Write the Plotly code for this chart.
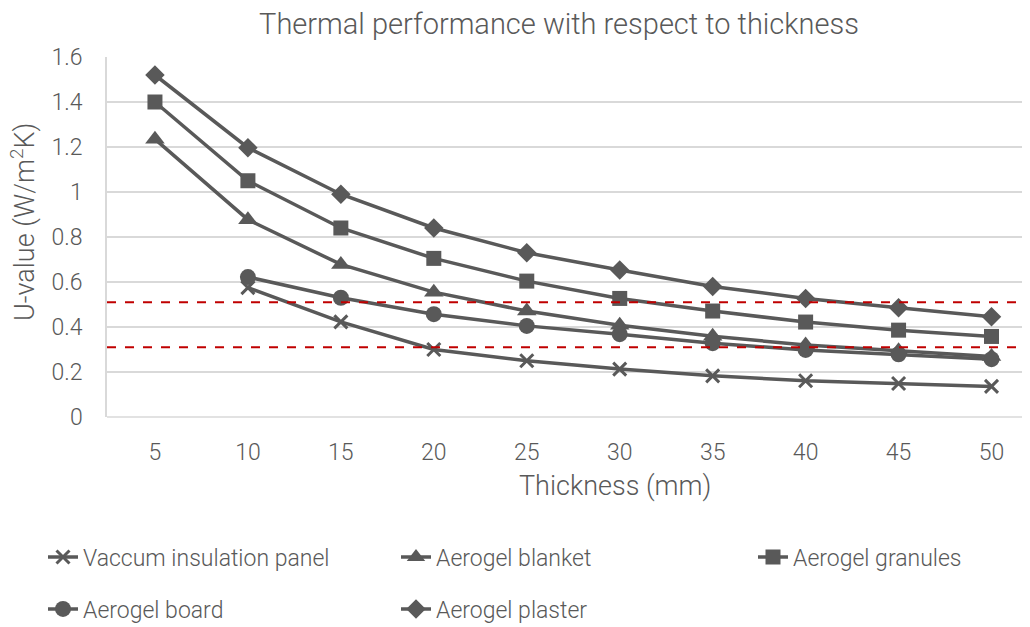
import plotly.graph_objects as go

thickness = [5, 10, 15, 20, 25, 30, 35, 40, 45, 50]
vip = [None, 0.575, 0.423, 0.300, 0.250, 0.213, 0.183, 0.161, 0.149, 0.136]
blanket = [1.235, 0.877, 0.678, 0.555, 0.471, 0.408, 0.359, 0.320, 0.294, 0.269]
granules = [1.400, 1.050, 0.840, 0.705, 0.604, 0.527, 0.471, 0.422, 0.386, 0.358]
board = [None, 0.622, 0.530, 0.457, 0.405, 0.368, 0.328, 0.298, 0.279, 0.257]
plaster = [1.520, 1.197, 0.990, 0.840, 0.730, 0.653, 0.580, 0.527, 0.486, 0.446]
limits = [0.51, 0.31]
y_ticks = [0, 0.2, 0.4, 0.6, 0.8, 1, 1.2, 1.4, 1.6]
y_ticktext = ["0", "0.2", "0.4", "0.6", "0.8", "1", "1.2", "1.4", "1.6"]

GREY = "#595959"
FONT = "Roboto"

series = [
    ("Vaccum insulation panel", vip, "x-thin", 13, "legend"),
    ("Aerogel blanket", blanket, "triangle-up", 17, "legend2"),
    ("Aerogel granules", granules, "square", 15, "legend3"),
    ("Aerogel board", board, "circle", 16, "legend4"),
    ("Aerogel plaster", plaster, "diamond", 15, "legend5"),
]

fig = go.Figure()
for name, vals, sym, size, leg in series:
    fig.add_trace(go.Scatter(
        x=thickness, y=vals, name=name, mode="lines+markers",
        line=dict(color=GREY, width=3.5),
        marker=dict(symbol=sym, size=size, color=GREY,
                    line=dict(color=GREY, width=3 if sym == "x-thin" else 0)),
        connectgaps=False, legend=leg,
    ))

for v in limits:
    fig.add_shape(type="line", xref="x domain", x0=0, x1=1, yref="y", y0=v, y1=v,
                  line=dict(color="#C00000", width=2, dash="dash"), layer="above")

# page body adds an 8px offset; positions below are in figure pixels
FW, FH = 1022, 619
leg_font = dict(family=FONT, size=23, color=GREY, weight=300)
leg_pos = {
    "legend": (35, 549),
    "legend2": (388, 549),
    "legend3": (745, 549),
    "legend4": (35, 601),
    "legend5": (388, 601),
}
legends = {}
for k, (lx, ly) in leg_pos.items():
    legends[k] = dict(x=lx / FW, y=1 - ly / FH, xref="container", yref="container",
                      xanchor="left", yanchor="middle", font=leg_font,
                      bgcolor="rgba(0,0,0,0)", borderwidth=0)

L, T, B = 99, 49, 409
fig.update_layout(
    width=FW, height=FH,
    margin=dict(l=L, r=0, t=T, b=FH - B, autoexpand=False),
    paper_bgcolor="white", plot_bgcolor="white",
    font=dict(family=FONT, color=GREY, weight=300),
    title=dict(text="Thermal performance with respect to thickness",
               x=551 / FW, xanchor="center", xref="container",
               y=1 - 16 / FH, yanchor="middle", yref="container",
               font=dict(family=FONT, size=29, color=GREY, weight=300)),
    xaxis=dict(range=[2.42, 52.07], tickvals=thickness, ticktext=[str(t) for t in thickness],
               showgrid=False, zeroline=False, showline=False, automargin=False,
               ticks="outside", ticklen=14, tickcolor="rgba(0,0,0,0)",
               tickfont=dict(family=FONT, size=23, color=GREY, weight=300)),
    yaxis=dict(range=[0, 1.6], tickvals=y_ticks, ticktext=y_ticktext, automargin=False,
               showgrid=True, gridcolor="#D9D9D9", gridwidth=1.5,
               zeroline=False, showline=True, linecolor="#D9D9D9", linewidth=1.5,
               ticks="outside", ticklen=18, tickcolor="rgba(0,0,0,0)",
               tickfont=dict(family=FONT, size=23, color=GREY, weight=300)),
    showlegend=True,
    **legends,
)

fig.add_shape(type="line", xref="x domain", x0=0, x1=1, yref="y domain", y0=0, y1=0,
              line=dict(color="#D9D9D9", width=1.5), layer="below")

W = FW - L
H = B - T
fig.add_annotation(text="Thickness (mm)", xref="paper", x=(607 - L) / W, xanchor="center",
                   yref="paper", y=(B - 478) / H, yanchor="middle", showarrow=False,
                   font=dict(family=FONT, size=27, color=GREY, weight=300))
fig.add_annotation(text="U-value (W/m<sup>2</sup>K)", textangle=-90,
                   xref="paper", x=(15 - L) / W, xanchor="center",
                   yref="paper", y=(B - 214) / H, yanchor="middle", showarrow=False,
                   font=dict(family=FONT, size=27, color=GREY, weight=300))

fig.write_html("out.html")
